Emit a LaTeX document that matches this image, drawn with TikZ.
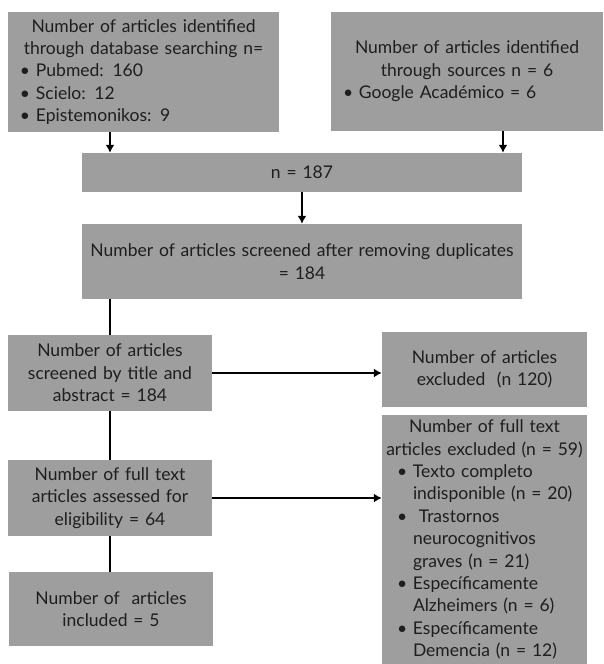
\documentclass[tikz,border=0pt]{standalone}
\usepackage{fontspec}
\setmainfont{Lato}
\usetikzlibrary{arrows.meta}

\definecolor{boxgray}{RGB}{158,158,158}
\definecolor{txtgray}{RGB}{30,30,30}

% bullet line and its continuation: #1 = indent of the bullet
\newcommand{\bul}[2]{\makebox[\linewidth][l]{\hspace*{#1}\makebox[16pt][l]{\textbullet}#2}}
\newcommand{\bcont}[2]{\makebox[\linewidth][l]{\hspace*{#1}\hspace*{16pt}#2}}

\tikzset{
	box/.style={fill=boxgray, text=txtgray, inner xsep=0pt, inner ysep=0pt,
		align=center, font=\fontsize{17.5}{22.4}\selectfont},
	arr/.style={line width=2pt, -{Latex[length=8pt,width=9pt]}},
	link/.style={line width=2pt}
}

\begin{document}
\begin{tikzpicture}[x=1pt,y=-1pt]
		\useasboundingbox (0,0) rectangle (603,664);
		% identification
		\node[box, minimum width=271, minimum height=120, text width=271] (db) at (143.5,72)
			{Number of articles identified\\ through database searching n=\\
			 \bul{12pt}{Pubmed: 160}\\ \bul{12pt}{Scielo: 12}\\ \bul{12pt}{Epistemonikos: 9}};
		\node[box, minimum width=272, minimum height=119, text width=272] (src) at (467,71.5)
			{Number of articles identified\\ through sources n = 6\\
			 \bul{12pt}{Google Académico = 6}};
		\node[box, minimum width=440, minimum height=39, text width=440] (tot) at (302,172.5) {n = 187};
		\node[box, minimum width=440, minimum height=75, text width=440] (dedup) at (302,261.5)
			{Number of articles screened after removing duplicates\\ = 184};
		% screening
		\node[box, minimum width=204, minimum height=76, text width=204] (title) at (110,373)
			{Number of articles\\ screened by title and\\ abstract = 184};
		\node[box, minimum width=205, minimum height=75, text width=205] (excl) at (484.5,369.5)
			{Number of articles\\ excluded\ \ (n 120)};
		\node[box, minimum width=204, minimum height=76, text width=204] (full) at (110,498)
			{Number of full text\\ articles assessed for\\ eligibility = 64};
		\node[box, minimum width=205, minimum height=249, text width=205] (exfull) at (484.5,539.5)
			{Number of full text\\ articles excluded (n = 59)\\
			 \bul{15pt}{Texto completo}\\ \bcont{15pt}{indisponible (n = 20)}\\
			 \bul{15pt}{\ Trastornos}\\ \bcont{15pt}{neurocognitivos}\\ \bcont{15pt}{graves (n = 21)}\\
			 \bul{15pt}{Específicamente}\\ \bcont{15pt}{Alzheimers (n = 6)}\\
			 \bul{15pt}{Específicamente}\\ \bcont{15pt}{Demencia (n = 12)}};
		\node[box, minimum width=204, minimum height=74, text width=204] (incl) at (111,609)
			{Number of\ \ articles\\ included = 5};
		% connectors
		\draw[arr] ([xshift=-33.5]db.south) -- ([xshift=-33.5]db.south |- tot.north);
		\draw[arr] ([xshift=36]src.south) -- ([xshift=36]src.south |- tot.north);
		\draw[arr] (tot.south) -- (dedup.north);
		\draw[link] (title.north |- dedup.south) -- (title.north);
		\draw[link] (title.south) -- (full.north);
		\draw[link] (full.south) -- (full.south |- incl.north);
		\draw[arr] (title.east) -- (title.east -| excl.west);
		\draw[arr] (full.east) -- (full.east -| exfull.west);
	\end{tikzpicture}
\end{document}
